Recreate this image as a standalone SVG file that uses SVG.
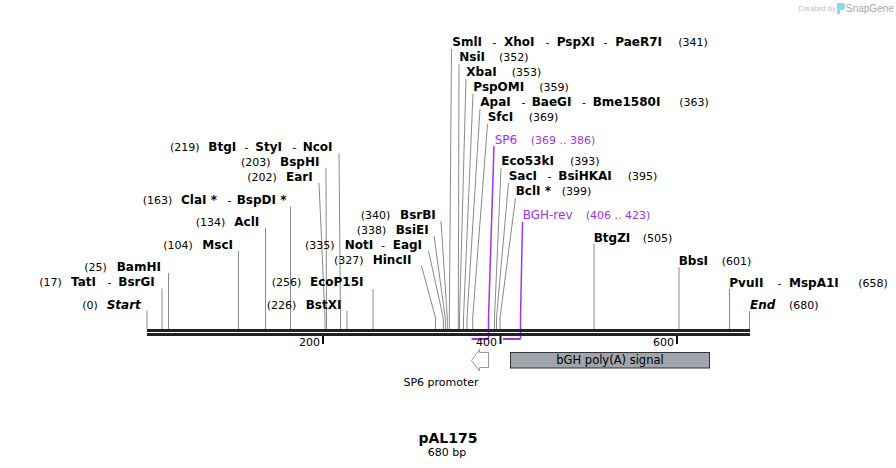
<svg xmlns="http://www.w3.org/2000/svg" width="896" height="468" viewBox="0 0 896 468">
<style>
text{font-family:"DejaVu Sans",Verdana,sans-serif;fill:#000}
.n{font-size:12px;font-weight:bold}
.i{font-style:italic}
.p{font-size:11px}
.d{font-size:11px}
.pr{fill:#a032f0}
.ln{fill:none;stroke:#8a8a8a;stroke-width:1}
.pl{fill:none;stroke:#a032f0;stroke-width:1.5}
.ph{fill:none;stroke:#a032f0;stroke-width:2}
.tk{stroke:#111;stroke-width:2}
.tl{font-size:11px;text-anchor:end}
.f{font-size:11.5px;text-anchor:middle}
</style>
<rect width="896" height="468" fill="#fff"/>

<g id="logo">
<text x="798" y="11" style="font-size:7px;fill:#bdbdbd">Created by</text>
<path d="M837 3 h5 a3 3 0 0 1 0 7 h-2 v4 h-3 z" fill="#8fd3f5"/>
<text x="846" y="12" style="font-family:'Liberation Sans',Arial,sans-serif;font-size:10px;fill:#a8a8a8">SnapGene</text>
</g>

<g id="connectors">
<!-- left group -->
<polyline class="ln" points="147,310.5 147,329"/>
<polyline class="ln" points="162,288.5 162,329"/>
<polyline class="ln" points="168.5,273 168.5,329"/>
<polyline class="ln" points="238.5,251 238.5,329"/>
<polyline class="ln" points="265.5,228 265.5,329"/>
<polyline class="ln" points="290.5,206.5 290.5,329"/>
<polyline class="ln" points="319,183 325,318 325,329"/>
<polyline class="ln" points="326,168 326.5,318 326.5,329"/>
<polyline class="ln" points="339,153 340.5,318 340.5,329"/>
<polyline class="ln" points="347,311 347,329"/>
<polyline class="ln" points="373,289 373,329"/>
<polyline class="ln" points="421.5,266 435.5,318 435.5,329"/>
<polyline class="ln" points="428.5,251 443.3,318 443.3,329"/>
<polyline class="ln" points="434,236 445.3,318 445.3,329"/>
<polyline class="ln" points="441,221 447.3,318 447.3,329"/>
<!-- right group -->
<polyline class="ln" points="451.5,49 449.3,318 449.3,329"/>
<polyline class="ln" points="459,64 458.3,318 458.3,329"/>
<polyline class="ln" points="466,79 459.5,318 459.5,329"/>
<polyline class="ln" points="473,94 463.5,318 463.5,329"/>
<polyline class="ln" points="480,109 467,318 467,329"/>
<polyline class="ln" points="487.5,124 472.7,318 472.7,329"/>
<polyline class="ln" points="501,168 494.5,318 494.5,329"/>
<polyline class="ln" points="508.5,183 496.5,318 496.5,329"/>
<polyline class="ln" points="515.5,198 500,318 500,329"/>
<polyline class="ln" points="594,244 594,329"/>
<polyline class="ln" points="679,267 679,329"/>
<polyline class="ln" points="729.5,289 729.5,329"/>
<polyline class="ln" points="749.5,311 749.5,329"/>
<!-- primers -->
<polyline class="pl" points="494,146 488.5,318 488.5,339"/>
<polyline class="ph" points="471.5,339 488.5,339"/>
<polyline class="pl" points="522.5,222 520.5,318 520.5,339"/>
<polyline class="ph" points="503,339 520.5,339"/>
</g>

<g id="backbone">
<rect x="147" y="329" width="603" height="3" fill="#222"/>
<rect x="147" y="333" width="603" height="3" fill="#222"/>
<line class="tk" x1="323" y1="336" x2="323" y2="344"/>
<line class="tk" x1="500.5" y1="336" x2="500.5" y2="344"/>
<line class="tk" x1="677" y1="336" x2="677" y2="344"/>
<text class="tl" x="320" y="346">200</text>
<text class="tl" x="497" y="346">400</text>
<text class="tl" x="674" y="346">600</text>
</g>

<!-- left group labels -->
<g id="e219"><text class="p" x="170" y="151">(219)</text><text class="n" x="208.3" y="151">BtgI</text><text class="d" x="244.5" y="151">-</text><text class="n" x="255.3" y="151">StyI</text><text class="d" x="292.5" y="151">-</text><text class="n" x="302.7" y="151">NcoI</text></g>
<g id="e203"><text class="p" x="241" y="166">(203)</text><text class="n" x="280" y="166">BspHI</text></g>
<g id="e202"><text class="p" x="247.3" y="181">(202)</text><text class="n" x="286" y="181">EarI</text></g>
<g id="e163"><text class="p" x="142.7" y="204">(163)</text><text class="n" x="181" y="204">ClaI *</text><text class="d" x="227.5" y="204">-</text><text class="n" x="236.7" y="204">BspDI *</text></g>
<g id="e134"><text class="p" x="195.7" y="226">(134)</text><text class="n" x="234.3" y="226">AclI</text></g>
<g id="e104"><text class="p" x="163.3" y="249">(104)</text><text class="n" x="202.3" y="249">MscI</text></g>
<g id="e25"><text class="p" x="84.3" y="271">(25)</text><text class="n" x="116.7" y="271">BamHI</text></g>
<g id="e17"><text class="p" x="39.3" y="286">(17)</text><text class="n" x="71" y="286">TatI</text><text class="d" x="107.5" y="286">-</text><text class="n" x="118.3" y="286">BsrGI</text></g>
<g id="start"><text class="p" x="82.3" y="308.5">(0)</text><text class="n i" x="106.7" y="308.5">Start</text></g>
<g id="e256"><text class="p" x="271.7" y="286">(256)</text><text class="n" x="310" y="286">EcoP15I</text></g>
<g id="e226"><text class="p" x="266.7" y="308.5">(226)</text><text class="n" x="305.7" y="308.5">BstXI</text></g>
<g id="e340"><text class="p" x="360.7" y="218.5">(340)</text><text class="n" x="400" y="218.5">BsrBI</text></g>
<g id="e338"><text class="p" x="356.7" y="233.5">(338)</text><text class="n" x="395.7" y="233.5">BsiEI</text></g>
<g id="e335"><text class="p" x="305" y="248.5">(335)</text><text class="n" x="344.7" y="248.5">NotI</text><text class="d" x="381" y="248.5">-</text><text class="n" x="392.7" y="248.5">EagI</text></g>
<g id="e327"><text class="p" x="334" y="263.5">(327)</text><text class="n" x="372.7" y="263.5">HincII</text></g>

<!-- right group labels -->
<g id="e341"><text class="n" x="452.3" y="46">SmlI</text><text class="d" x="492.5" y="46">-</text><text class="n" x="504" y="46">XhoI</text><text class="d" x="545.5" y="46">-</text><text class="n" x="556.7" y="46">PspXI</text><text class="d" x="603.5" y="46">-</text><text class="n" x="615.3" y="46">PaeR7I</text><text class="p" x="678.3" y="46">(341)</text></g>
<g id="e352"><text class="n" x="459.3" y="61">NsiI</text><text class="p" x="499" y="61">(352)</text></g>
<g id="e353"><text class="n" x="466.3" y="76">XbaI</text><text class="p" x="511.7" y="76">(353)</text></g>
<g id="e359"><text class="n" x="473.3" y="91">PspOMI</text><text class="p" x="539.3" y="91">(359)</text></g>
<g id="e363"><text class="n" x="480.3" y="106">ApaI</text><text class="d" x="521.5" y="106">-</text><text class="n" x="531.7" y="106">BaeGI</text><text class="d" x="582" y="106">-</text><text class="n" x="592.7" y="106">Bme1580I</text><text class="p" x="679.3" y="106">(363)</text></g>
<g id="e369"><text class="n" x="487.7" y="121">SfcI</text><text class="p" x="528.7" y="121">(369)</text></g>
<g id="sp6"><text class="pr" style="font-size:12px" x="494.7" y="143.5">SP6</text><text class="p pr" x="530.7" y="143.5">(369 .. 386)</text></g>
<g id="e393"><text class="n" x="501.3" y="165">Eco53kI</text><text class="p" x="570" y="165">(393)</text></g>
<g id="e395"><text class="n" x="508.7" y="180">SacI</text><text class="d" x="547.5" y="180">-</text><text class="n" x="558.3" y="180">BsiHKAI</text><text class="p" x="627.7" y="180">(395)</text></g>
<g id="e399"><text class="n" x="515.7" y="195">BclI *</text><text class="p" x="561.7" y="195">(399)</text></g>
<g id="bghrev"><text class="pr" style="font-size:12px" x="522.7" y="218.5">BGH-rev</text><text class="p pr" x="585.7" y="218.5">(406 .. 423)</text></g>
<g id="e505"><text class="n" x="593.7" y="241.5">BtgZI</text><text class="p" x="642.7" y="241.5">(505)</text></g>
<g id="e601"><text class="n" x="678.7" y="264.5">BbsI</text><text class="p" x="721.7" y="264.5">(601)</text></g>
<g id="e658"><text class="n" x="729.3" y="286.5">PvuII</text><text class="d" x="777.5" y="286.5">-</text><text class="n" x="789" y="286.5">MspA1I</text><text class="p" x="858.3" y="286.5">(658)</text></g>
<g id="end"><text class="n i" x="750" y="308.5">End</text><text class="p" x="789" y="308.5">(680)</text></g>

<!-- features -->
<g id="sp6promoter">
<polygon points="488.5,352.5 479.5,352.5 479.5,349.5 471.5,360.5 479.5,371 479.5,367.5 488.5,367.5" fill="#fff" stroke="#999" stroke-width="1"/>
<text class="p" x="441" y="385.5" text-anchor="middle">SP6 promoter</text>
</g>
<g id="bgh">
<rect x="510.5" y="352.5" width="199" height="15.5" fill="#a0a5ac" stroke="#333" stroke-width="1"/>
<text class="f" x="610" y="364">bGH poly(A) signal</text>
</g>

<g id="title">
<text x="448" y="443" text-anchor="middle" style="font-size:14px;font-weight:bold">pAL175</text>
<text x="447" y="455.5" text-anchor="middle" style="font-size:11px">680 bp</text>
</g>
</svg>
